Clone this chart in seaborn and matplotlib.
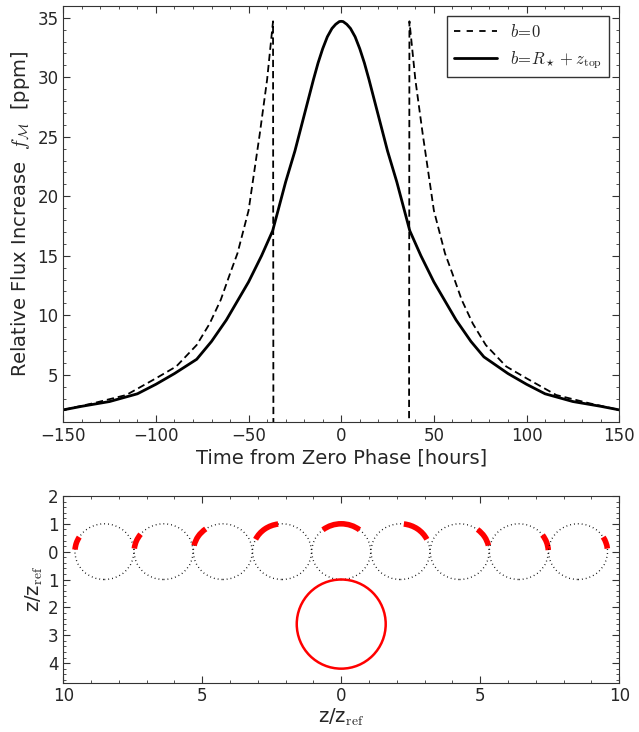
import numpy as np
import pandas as pd
import seaborn as sns
import matplotlib
matplotlib.use("Agg")
import matplotlib.pyplot as plt
from matplotlib.patches import Ellipse, Arc, Circle
from matplotlib.ticker import MultipleLocator, FuncFormatter

# --- top panel: relative flux increase vs time ---
time_dash = [-150, -134, -116, -100, -89, -78, -71, -65, -60, -56, -53, -50, -44, -40, -36.8, -36.6,
             36.6, 36.8, 40, 44, 50, 53, 56, 60, 65, 71, 78, 89, 100, 116, 134, 150]
flux_dash = [2.05, 2.6, 3.3, 4.7, 5.7, 7.5, 9.3, 11.3, 13.5, 15.2, 17.0, 18.8, 25.2, 29.8, 34.7, 0.0,
             0.0, 34.7, 29.8, 25.2, 18.8, 17.0, 15.2, 13.5, 11.3, 9.3, 7.5, 5.7, 4.7, 3.3, 2.6, 2.05]

time_solid = [-150, -140, -125, -110, -100, -90, -78, -70, -62, -50, -43, -37, -30, -25, -20, -15, -12.5,
              -10, -7.5, -5, -3, -1, 0, 1, 3, 5, 7.5, 10, 12.5, 15, 20, 25, 30, 37, 43, 50, 62, 70, 77,
              90, 100, 110, 125, 140, 150]
flux_solid = [2.05, 2.35, 2.75, 3.4, 4.2, 5.1, 6.3, 7.8, 9.6, 12.8, 15.0, 17.1, 21.2, 23.8, 26.8, 29.8, 31.2,
              32.4, 33.4, 34.1, 34.45, 34.68, 34.7, 34.68, 34.45, 34.1, 33.4, 32.4, 31.2, 29.8, 26.8, 23.8,
              21.2, 17.1, 15.0, 12.8, 9.6, 7.8, 6.5, 5.1, 4.2, 3.4, 2.75, 2.35, 2.05]

# --- bottom panel: geometry sketch ---
moon_x = [-8.52, -6.39, -4.26, -2.13, 0.0, 2.13, 4.26, 6.39, 8.52]
arc_from = [150, 143, 127, 98, 50, 25, 12, 3, 6]
arc_to = [176, 174, 168, 155, 130, 83, 51, 35, 30]
star_center = (0.0, -2.6)
star_radius = 1.6

sns.set_style("ticks")
plt.rcParams["font.family"] = ["DejaVu Sans"]
plt.rcParams["mathtext.fontset"] = "cm"
plt.rcParams["xtick.direction"] = "in"
plt.rcParams["ytick.direction"] = "in"
plt.rcParams["xtick.top"] = True
plt.rcParams["ytick.right"] = True
plt.rcParams["axes.edgecolor"] = "#333333"

fig = plt.figure(figsize=(6.39, 7.32), dpi=100)
ax1 = fig.add_axes([0.099, 0.423, 0.870, 0.569])
ax2 = fig.add_axes([0.099, 0.0675, 0.870, 0.255])

dashes = (0, (4, 2.2))
df_dash = pd.DataFrame({"t": time_dash, "f": flux_dash})
df_solid = pd.DataFrame({"t": time_solid, "f": flux_solid})
sns.lineplot(data=df_dash, x="t", y="f", ax=ax1, color="black", lw=1.3, sort=False,
             estimator=None, label=r"$b\!=\!0$")
ax1.lines[-1].set_linestyle(dashes)
sns.lineplot(data=df_solid, x="t", y="f", ax=ax1, color="black", lw=2.0, sort=False,
             estimator=None, label=r"$b\!=\!R_\star+z_{\rm top}$")

ax1.set_xlim(-150, 150)
ax1.set_ylim(1, 36)
ax1.xaxis.set_major_locator(MultipleLocator(50))
ax1.xaxis.set_minor_locator(MultipleLocator(10))
ax1.yaxis.set_minor_locator(MultipleLocator(1))
ax1.set_yticks([5, 10, 15, 20, 25, 30, 35])
ax1.set_xlabel("Time from Zero Phase [hours]", fontsize=14, labelpad=2)
ax1.set_ylabel(r"Relative Flux Increase  $f_\mathcal{M}$  [ppm]", fontsize=14, labelpad=4)
leg = ax1.legend(loc="upper right", fontsize=12, fancybox=False, framealpha=1,
                 edgecolor="#333333", handlelength=2.6, borderaxespad=0.6)
leg.get_frame().set_linewidth(1.0)
leg.legend_handles[0].set_linestyle((0, (3.5, 3.5)))

# bottom sketch
for cx, a0, a1 in zip(moon_x, arc_from, arc_to):
    ax2.add_patch(Ellipse((cx, 0), 2.12, 2.0, fill=False, ls=(0, (0.6, 2.2)), lw=1.0, color="black"))
    ax2.add_patch(Arc((cx, 0), 2.12, 2.0, theta1=a0, theta2=a1, color="red", lw=4.0))
ax2.add_patch(Circle(star_center, star_radius, fill=False, color="red", lw=1.8))

ax2.set_xlim(-10, 10)
ax2.set_ylim(-4.7, 2)
ax2.xaxis.set_major_locator(MultipleLocator(5))
ax2.xaxis.set_minor_locator(MultipleLocator(1))
ax2.yaxis.set_major_locator(MultipleLocator(1))
ax2.yaxis.set_minor_locator(MultipleLocator(0.2))
absfmt = FuncFormatter(lambda v, p: f"{abs(v):g}")
ax2.xaxis.set_major_formatter(absfmt)
ax2.yaxis.set_major_formatter(absfmt)
ax2.set_xlabel(r"z/z$_{\rm ref}$", fontsize=14, labelpad=1)
ax2.set_ylabel(r"z/z$_{\rm ref}$", fontsize=14, labelpad=2)

for ax in (ax1, ax2):
    ax.tick_params(which="major", length=5, width=0.8, labelsize=12, color="#333333")
    ax.tick_params(which="minor", length=2.5, width=0.6, color="#333333")

fig.savefig("out.png", dpi=100)
